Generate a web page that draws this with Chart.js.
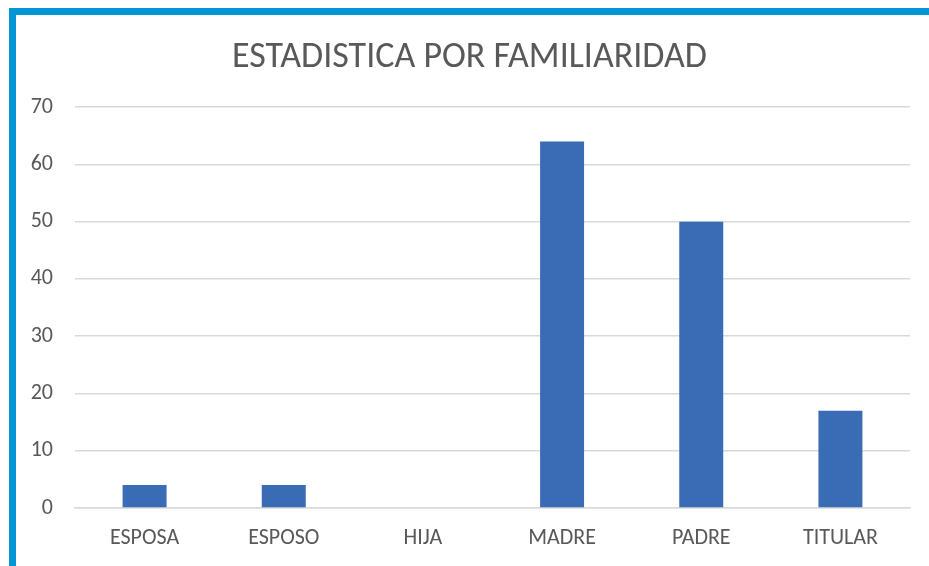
<!DOCTYPE html>
<html>
<head>
<meta charset="utf-8">
<script src="https://cdn.jsdelivr.net/npm/chart.js@4"></script>
<style>
  body { margin: 0; background: #fff; }
  #wrap {
    position: absolute; left: 9px; top: 8px;
    width: 913px; height: 551px;
    border-top: 7px solid #0096d6;
    border-left: 7px solid #0096d6;
  }
</style>
</head>
<body>
<div id="wrap"><canvas id="myChart" width="913" height="551"></canvas></div>
<script>
const categories = ["ESPOSA", "ESPOSO", "HIJA", "MADRE", "PADRE", "TITULAR"];
const values = [4, 4, 0, 64, 50, 17];
const yTicks = [0, 10, 20, 30, 40, 50, 60, 70];

const textColor = "#595959";
const fontFamily = "Carlito, Lato, sans-serif";

function displayChart() {
  const data = {
    labels: categories,
    datasets: [
      {
        label: "Cantidad",
        backgroundColor: "#3a6bb5",
        data: values,
        categoryPercentage: 1,
        barPercentage: 0.316,
      },
    ],
  };

  const config = {
    type: "bar",
    data: data,
    options: {
      responsive: false,
      animation: false,
      layout: { padding: { left: 13, right: 19, top: 0, bottom: 0 } },
      plugins: {
        legend: { display: false },
        tooltip: { enabled: false },
        title: {
          display: true,
          text: "ESTADISTICA POR FAMILIARIDAD",
          color: textColor,
          font: { family: fontFamily, size: 36, weight: "normal" },
          padding: { top: 21, bottom: 28 },
        },
      },
      scales: {
        x: {
          grid: { display: false },
          border: { display: true, color: "#d9d9d9", width: 1.5 },
          ticks: {
            color: textColor,
            font: { family: fontFamily, size: 22 },
            padding: 9,
            maxRotation: 0,
          },
          afterFit: (axis) => { axis.height = 58; },
        },
        y: {
          min: 0,
          max: 70,
          afterBuildTicks: (axis) => {
            axis.ticks = yTicks.map((v) => ({ value: v }));
          },
          grid: { color: "#d9d9d9", lineWidth: 1.5, drawTicks: false },
          border: { display: false },
          ticks: {
            color: textColor,
            font: { family: fontFamily, size: 22 },
            padding: 22,
          },
          afterFit: (axis) => { axis.width = 46; },
        },
      },
    },
  };
  new Chart(document.getElementById("myChart"), config);
}
displayChart();
</script>
</body>
</html>
